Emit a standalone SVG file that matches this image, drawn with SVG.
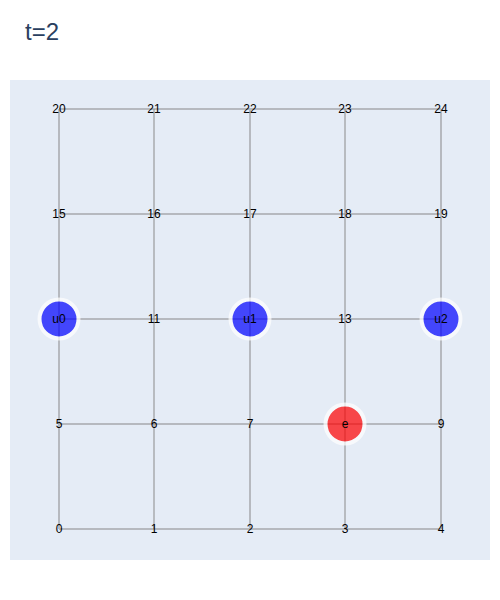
<svg xmlns="http://www.w3.org/2000/svg" width="500" height="600" viewBox="0 0 500 600">
<style>
.h{stroke:#b6b9bf;stroke-width:2}
.vl{stroke:#b6b9bf;stroke-width:2}
.vd{stroke:#8a8a8a;stroke-width:1}
.lab{font-family:"Liberation Sans",Arial,sans-serif;font-size:12px;fill:#000;text-anchor:middle;dominant-baseline:central}
.dot{fill:#e07a8a}
.ag{stroke:#fff;stroke-width:4;opacity:0.7}
</style>
<rect width="500" height="600" fill="#fff"/>
<rect x="10" y="80" width="480" height="480" fill="#e5ecf6"/>
<text x="25" y="40" font-family="'Liberation Sans',Arial,sans-serif" font-size="24" fill="#2a3f5f">t=2</text>
<g id="edges">
<line class="h" x1="59" y1="109" x2="441" y2="109"/>
<line class="h" x1="59" y1="214" x2="441" y2="214"/>
<line class="h" x1="59" y1="319" x2="441" y2="319"/>
<line class="h" x1="59" y1="424" x2="441" y2="424"/>
<line class="h" x1="59" y1="529" x2="441" y2="529"/>
<line class="vl" x1="59" y1="109" x2="59" y2="529"/>
<line class="vd" x1="154" y1="109" x2="154" y2="529"/>
<line class="vl" x1="250" y1="109" x2="250" y2="529"/>
<line class="vd" x1="345" y1="109" x2="345" y2="529"/>
<line class="vl" x1="441" y1="109" x2="441" y2="529"/>
</g>
<g id="agents">
<g id="u0"><circle class="ag" cx="59" cy="319" r="19.5" fill="#0000ff"/></g>
<g id="u1"><circle class="ag" cx="250" cy="319" r="19.5" fill="#0000ff"/></g>
<g id="u2"><circle class="ag" cx="441" cy="319" r="19.5" fill="#0000ff"/></g>
<g id="e"><circle class="ag" cx="345" cy="424" r="19.5" fill="#ff0000"/></g>
</g>
<g id="nodes">
<g id="n20"><text class="lab" x="59" y="109">20</text></g>
<g id="n21"><text class="lab" x="154" y="109">21</text></g>
<g id="n22"><text class="lab" x="250" y="109">22</text></g>
<g id="n23"><text class="lab" x="345" y="109">23</text></g>
<g id="n24"><text class="lab" x="441" y="109">24</text></g>
<g id="n15"><text class="lab" x="59" y="214">15</text></g>
<g id="n16"><text class="lab" x="154" y="214">16</text></g>
<g id="n17"><text class="lab" x="250" y="214">17</text></g>
<g id="n18"><text class="lab" x="345" y="214">18</text></g>
<g id="n19"><text class="lab" x="441" y="214">19</text></g>
<g id="n10"><text class="lab" x="59" y="319">u0</text></g>
<g id="n11"><text class="lab" x="154" y="319">11</text></g>
<g id="n12"><text class="lab" x="250" y="319">u1</text></g>
<g id="n13"><text class="lab" x="345" y="319">13</text></g>
<g id="n14"><text class="lab" x="441" y="319">u2</text></g>
<g id="n5"><text class="lab" x="59" y="424">5</text></g>
<g id="n6"><text class="lab" x="154" y="424">6</text></g>
<g id="n7"><text class="lab" x="250" y="424">7</text></g>
<g id="n8"><text class="lab" x="345" y="424">e</text></g>
<g id="n9"><text class="lab" x="441" y="424">9</text></g>
<g id="n0"><text class="lab" x="59" y="529">0</text></g>
<g id="n1"><text class="lab" x="154" y="529">1</text></g>
<g id="n2"><text class="lab" x="250" y="529">2</text></g>
<g id="n3"><text class="lab" x="345" y="529">3</text></g>
<g id="n4"><text class="lab" x="441" y="529">4</text></g>
</g>
</svg>
